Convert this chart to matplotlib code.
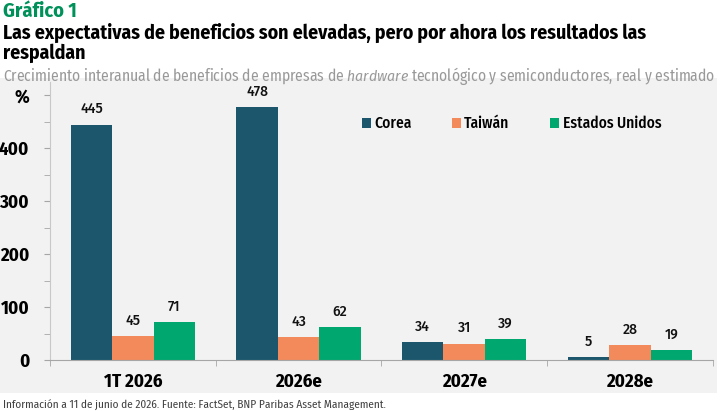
import numpy as np
import matplotlib
matplotlib.use("Agg")
import matplotlib.pyplot as plt
from matplotlib.patches import Rectangle
from matplotlib.ticker import MultipleLocator, FixedLocator

# data
categories = ["1T 2026", "2026e", "2027e", "2028e"]
series = ["Corea", "Taiwán", "Estados Unidos"]
corea = [445, 478, 34, 5]
taiwan = [45, 43, 31, 28]
eeuu = [71, 62, 39, 19]
values = [corea, taiwan, eeuu]
colors = ["#1b566d", "#f28a5c", "#00a76f"]

plt.rcParams['font.family'] = ['Fira Sans Condensed', 'DejaVu Sans']
plt.rcParams['mathtext.fontset'] = 'custom'
plt.rcParams['mathtext.it'] = 'Fira Sans Condensed:italic'
plt.rcParams['mathtext.rm'] = 'Fira Sans Condensed'

fig = plt.figure(figsize=(7.25, 4.11), dpi=100)
fig.patch.set_facecolor("white")

# grey panel behind the chart
fig.patches.append(Rectangle((0, 0.044), 0.989, 0.766, transform=fig.transFigure,
                             facecolor="#f2f2f2", edgecolor="none", zorder=-1))

fig.text(0.004, 0.995, "Gráfico 1", color="#00915a", fontsize=14.5, fontweight="bold", va="top")
fig.text(0.004, 0.945, "Las expectativas de beneficios son elevadas, pero por ahora los resultados las\nrespaldan",
         color="black", fontsize=14.2, fontweight="bold", va="top", linespacing=1.05)
fig.text(0.004, 0.842,
         "Crecimiento interanual de beneficios de empresas de $\\it{hardware}$ tecnológico y semiconductores, real y estimado",
         color="#999999", fontsize=11.2, va="top")
fig.text(0.004, 0.0, "Información a 11 de junio de 2026. Fuente: FactSet, BNP Paribas Asset Management.",
         color="#404040", fontsize=8.1, va="bottom")

ax = fig.add_axes([0.069, 0.124, 0.914, 0.676])
ax.set_facecolor("none")
ax.set_zorder(1)

x = np.arange(len(categories))
w = 0.25
for i, (name, vals, c) in enumerate(zip(series, values, colors)):
    pos = x + (i - 1) * w
    ax.bar(pos, vals, width=w, color=c, label=name, zorder=2)
    for p, v in zip(pos, vals):
        ax.annotate(str(v), (p, v), xytext=(0, 6), textcoords="offset points",
                    ha="center", va="bottom", fontsize=10, fontweight="medium",
                    family=["Fira Sans", "DejaVu Sans"], color="#111111")

ax.set_xlim(-0.5, len(categories) - 0.5)
ax.set_ylim(0, 525)

ax.yaxis.set_major_locator(FixedLocator([0, 100, 200, 300, 400, 500]))
ax.set_yticklabels(["0", "100", "200", "300", "400", "%"], fontsize=13.5, fontweight="bold")
ax.yaxis.set_minor_locator(MultipleLocator(50))

ax.set_xticks(x)
ax.set_xticklabels(categories, fontsize=13.5, fontweight="bold")
ax.xaxis.set_minor_locator(FixedLocator(np.arange(-0.5, len(categories), 1.0)))
ax.tick_params(axis="x", which="major", length=0, pad=9)
ax.tick_params(axis="x", which="minor", length=4, color="#a6a6a6", direction="out")
ax.tick_params(axis="y", which="major", length=4, color="#a6a6a6", direction="out", pad=11)
ax.tick_params(axis="y", which="minor", length=4, color="#a6a6a6", direction="out")

for s in ["top", "right"]:
    ax.spines[s].set_visible(False)
ax.spines["left"].set_color("#c8c8c8")
ax.spines["bottom"].set_color("#a6a6a6")

leg = ax.legend(loc="upper left", bbox_to_anchor=(0.449, 0.93), ncol=3, frameon=False,
                prop={"size": 11.2, "weight": "medium"}, handlelength=0.6, handleheight=0.6,
                handletextpad=0.2, columnspacing=2.6)

fig.savefig("out.png", dpi=100, facecolor="white")
